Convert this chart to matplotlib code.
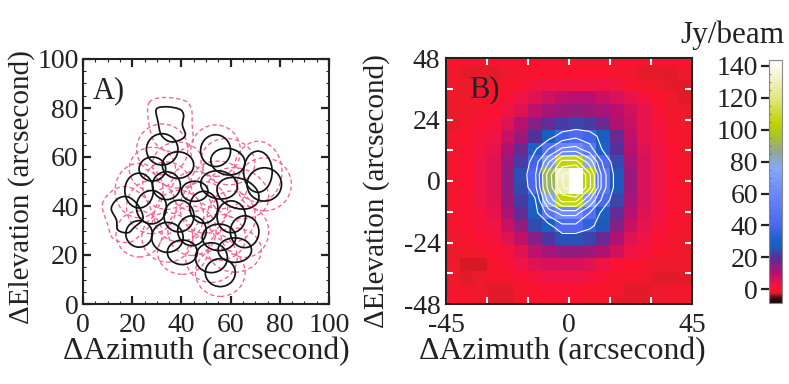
import numpy as np
import matplotlib
matplotlib.use("Agg")
import matplotlib.pyplot as plt
from matplotlib.patches import Ellipse, PathPatch
from matplotlib.path import Path
from matplotlib.colors import LinearSegmentedColormap, Normalize
from matplotlib.cm import ScalarMappable
from matplotlib.ticker import MultipleLocator, FixedLocator

plt.rcParams["font.family"] = ["Liberation Serif", "DejaVu Serif"]
plt.rcParams["axes.unicode_minus"] = False

W, H = 789, 384
FS = 20

# Panel A: beam footprints (centre x, centre y, half width, half height, tilt)
beams = [
    (32.2, 63.1, 6.4, 6.4, 0), (38.6, 56.7, 6.4, 5.4, 0), (28.2, 55.1, 5.4, 4.9, 0),
    (33.9, 48.3, 5.7, 5.7, 0), (22.8, 46.3, 5.8, 7.1, 0), (27.8, 39.5, 6.1, 6.8, 0),
    (22.8, 28.6, 5.4, 5.4, 0), (34.3, 27.2, 6.4, 6.1, 0), (39.0, 35.9, 6.1, 6.5, 0),
    (44.3, 29.9, 5.8, 6.1, 0), (40.4, 21.1, 6.1, 5.0, 0), (52.2, 18.9, 6.5, 6.1, 0),
    (55.8, 12.8, 6.1, 5.7, 0), (55.3, 27.2, 6.8, 5.4, 0), (61.7, 22.0, 6.8, 5.0, 0),
    (65.7, 29.5, 5.8, 6.5, 0), (60.3, 35.6, 5.8, 6.5, 0), (49.1, 39.5, 5.7, 6.5, 0),
    (45.4, 46.0, 5.4, 4.1, 0), (55.3, 48.6, 7.5, 5.7, -10), (63.0, 45.2, 8.8, 6.1, -20),
    (73.7, 48.8, 7.0, 6.8, 0), (71.1, 54.0, 5.8, 8.4, 0), (58.9, 58.1, 7.0, 5.4, -10),
    (53.9, 62.6, 6.1, 6.5, 0),
]
loop_top = [(29.8, 79.5), (33.9, 80.5), (39.3, 79.5), (40.9, 77.1), (40.4, 73.1),
            (41.6, 69.0), (39.3, 66.9), (35.2, 66.3), (31.8, 69.0), (30.5, 74.4)]
loop_left = [(11.5, 39.0), (14.2, 43.0), (18.3, 43.7), (22.4, 40.3), (24.4, 34.9),
             (21.0, 31.5), (18.3, 29.1), (14.2, 30.2), (13.6, 34.3)]
margin = 4.0

# Panel B: map in Jy/beam, top row first; 5 arcsec cells
x_edges = np.arange(-45, 46, 5)
y_edges = np.arange(50, -51, -5)
flux = np.array([
    [ 0.5, 0.5, 0.5, 0.5, 0.5, 0.5, 0.5, 0.5, 0.0,-0.5,-0.5,-0.5, 0.0, 0.5, 0.5, 0.5, 0.5, 0.5],
    [-0.5,-1.5,-1.5,-1.5,-1.0, 0.0, 0.5, 0.5, 0.5, 0.5, 0.5, 0.5, 0.0,-0.5,-1.5,-1.5,-1.5,-1.0],
    [-1.0,-1.0, 0.0, 0.0, 0.0, 1.0, 2.0, 3.0, 3.0, 3.0, 3.0, 3.0, 2.0, 1.0, 0.0,-1.0,-1.5,-1.5],
    [-1.0,-1.0, 0.0, 0.5, 1.0, 3.0, 5.0, 7.0, 9.0,10.0,10.0, 8.0, 6.0, 4.0, 2.0, 0.5,-1.0,-1.5],
    [-1.0,-1.0, 0.0, 1.0, 3.0, 5.0, 9.0,12.0,13.0,14.0,13.0,12.0,10.0, 7.0, 4.0, 1.0,-0.5,-1.0],
    [-1.5, 0.0, 1.0, 2.0, 5.0,10.0,15.0,19.0,22.0,23.0,22.0,18.0,11.0, 8.0, 4.0, 2.0, 0.0,-0.5],
    [ 0.0, 0.5, 2.0, 3.0, 8.0,13.0,20.0,27.0,37.0,42.0,38.0,27.0,18.0, 9.0, 4.0, 2.0, 0.5, 0.0],
    [ 0.0, 1.0, 2.0, 4.0,11.0,18.0,30.0,45.0,60.0,62.0,50.0,30.0,20.0,10.0, 5.0, 3.0, 1.0, 0.0],
    [ 0.0, 1.0, 3.0, 5.0,13.0,22.0,38.0,68.0,105.,105.,78.0,42.0,24.0,12.0, 6.0, 3.0, 1.0, 0.0],
    [ 0.0, 1.0, 3.0, 5.0,14.0,25.0,42.0,92.0,130.,146.,103.,50.0,26.0,13.0, 6.0, 3.0, 1.0, 0.0],
    [ 0.0, 1.0, 3.0, 5.0,14.0,24.0,40.0,90.0,128.,146.,104.,50.0,26.0,13.0, 6.0, 3.0, 1.0, 0.0],
    [ 0.0, 1.0, 3.0, 5.0,13.0,22.0,30.0,75.0,105.,105.,70.0,40.0,23.0,12.0, 6.0, 3.0, 1.0, 0.0],
    [ 0.0, 1.0, 2.0, 4.0,11.0,19.0,27.0,50.0,62.0,62.0,45.0,28.0,19.0,10.0, 5.0, 3.0, 1.0, 0.0],
    [ 0.0, 0.5, 2.0, 3.0, 8.0,14.0,24.0,28.0,42.0,42.0,35.0,26.0,15.0, 8.0, 4.0, 2.0, 0.5, 0.0],
    [-0.5, 0.0, 1.0, 2.0, 5.0, 9.0,15.0,21.0,25.0,25.0,23.0,18.0,11.0, 5.0, 3.0, 1.0, 0.0,-0.5],
    [-1.0,-0.5, 0.0, 1.0, 2.0, 5.0, 9.0,12.0,14.0,14.0,13.0,11.0, 7.0, 3.0, 2.0, 0.5,-0.5,-1.0],
    [-1.0,-2.5,-2.5, 0.0, 1.0, 3.0, 5.0, 6.0, 6.0, 6.0, 5.0, 3.0, 1.0, 0.5, 0.0,-1.0,-1.0,-1.0],
    [-1.0,-1.5,-1.0, 0.0, 0.0, 1.0, 2.0, 3.0, 3.0, 3.0, 2.0, 1.0, 0.0, 0.0,-0.5,-1.5,-1.5,-1.5],
    [ 0.0, 0.0,-1.0,-1.5,-1.5, 0.0, 0.5, 1.0, 1.0, 1.0, 0.5, 0.0, 0.0,-1.5,-1.5,-1.0,-0.5,-0.5],
    [ 0.5, 0.5,-1.0,-1.5,-1.5, 0.0, 0.5, 0.5, 0.5, 0.5, 0.0, 0.0,-1.5,-1.5,-1.5,-1.0,-0.5,-0.5],
])
contour_levels = [32, 45, 58, 70, 85, 100, 115, 130]
bar_ticks = [0, 20, 40, 60, 80, 100, 120, 140]
vmin, vmax = -8.6, 143.7
stops = [(-8.6, "#100808"), (-5.5, "#4a0a18"), (-3, "#d01a24"), (-1, "#ee1a2a"), (0.5, "#fb1230"),
         (3, "#ee1448"), (10, "#b81070"), (20, "#55309a"), (27, "#1860c0"), (32, "#2060d0"),
         (40, "#4a68f0"), (60, "#6a88f8"), (76, "#88a8f8"), (86, "#90a898"), (95, "#a8c030"),
         (104, "#bfd400"), (120, "#e0e880"), (135, "#f5f5d8"), (143.7, "#ffffff")]
cmap = LinearSegmentedColormap.from_list(
    "jy", [((v - vmin) / (vmax - vmin), c) for v, c in stops], N=512)


def add_axes_px(fig, left, top, right, bottom):
    return fig.add_axes([left / W, 1 - bottom / H, (right - left) / W, (bottom - top) / H])


def smooth_path(points):
    p = np.array(points)
    n = len(p)
    verts, codes = [p[0]], [Path.MOVETO]
    for i in range(n):
        p0, p1, p2, p3 = p[i - 1], p[i], p[(i + 1) % n], p[(i + 2) % n]
        verts += [p1 + (p2 - p0) / 6, p2 - (p3 - p1) / 6, p2]
        codes += [Path.CURVE4] * 3
    return Path(verts, codes)


def grown(points, d):
    p = np.array(points)
    c = p.mean(axis=0)
    v = p - c
    return c + v * (1 + d / np.linalg.norm(v, axis=1, keepdims=True))


fig = plt.figure(figsize=(W / 100, H / 100), dpi=100)
frame = "#222222"
ink = "#222222"

# Panel A
axa = add_axes_px(fig, 83, 59, 329, 304)
axa.set_xlim(0, 100)
axa.set_ylim(0, 100)
pink = dict(edgecolor="#f4628f", facecolor="none", lw=0.95, linestyle=(0, (3.2, 2.2)))
black = dict(edgecolor="#151515", facecolor="none", lw=1.25)
for cx, cy, rx, ry, ang in beams:
    axa.add_patch(Ellipse((cx, cy), 2 * (rx + margin), 2 * (ry + margin), angle=ang, **pink))
for loop in (loop_top, loop_left):
    axa.add_patch(PathPatch(smooth_path(grown(loop, margin)), **pink))
for cx, cy, rx, ry, ang in beams:
    axa.add_patch(Ellipse((cx, cy), 2 * rx, 2 * ry, angle=ang, **black))
for loop in (loop_top, loop_left):
    axa.add_patch(PathPatch(smooth_path(loop), **black))
axa.xaxis.set_major_locator(MultipleLocator(20))
axa.yaxis.set_major_locator(MultipleLocator(20))
axa.xaxis.set_minor_locator(MultipleLocator(5))
axa.yaxis.set_minor_locator(MultipleLocator(5))
axa.tick_params(which="major", direction="in", length=6, width=1.6, top=True, right=True,
                labelsize=FS, color=frame, labelcolor=ink)
axa.tick_params(which="minor", direction="in", length=2.2, width=0.8, top=True, right=True, color=frame)
axa.tick_params(axis="x", which="major", pad=6.5)
axa.tick_params(axis="y", which="major", pad=3)
axa.text(4, 87, "A)", fontsize=22, color=ink, va="center", ha="left")

# Panel B
axb = add_axes_px(fig, 446, 58, 692, 304)
norm = Normalize(vmin, vmax)
axb.pcolormesh(x_edges, y_edges, flux, cmap=cmap, norm=norm, shading="flat", rasterized=True)
xc = 0.5 * (x_edges[:-1] + x_edges[1:])
yc = 0.5 * (y_edges[:-1] + y_edges[1:])
axb.contour(xc, yc, flux, levels=contour_levels, colors="white", linewidths=0.8)
axb.set_xlim(-45, 45)
axb.set_ylim(-48, 48)
axb.xaxis.set_major_locator(FixedLocator([-45, 0, 45]))
axb.xaxis.set_minor_locator(MultipleLocator(15))
axb.yaxis.set_major_locator(FixedLocator([-48, -24, 0, 24, 48]))
axb.yaxis.set_minor_locator(MultipleLocator(12))
axb.tick_params(which="both", direction="in", length=5, width=1.5, top=True, right=True, color="white")
axb.tick_params(which="major", labelsize=FS, labelcolor=ink)
axb.tick_params(axis="x", which="major", pad=6.5)
axb.tick_params(axis="y", which="major", pad=4)
axb.text(-36.5, 35.5, "B)", fontsize=22, color=ink, va="center", ha="left")

# Axis titles, placed in figure pixels
fig.text(206 / W, 1 - 352 / H, "\u0394Azimuth (arcsecond)", fontsize=22.8, ha="center", va="center", color=ink)
fig.text(562 / W, 1 - 352 / H, "\u0394Azimuth (arcsecond)", fontsize=22.8, ha="center", va="center", color=ink)
fig.text(22 / W, 1 - 187 / H, "\u0394Elevation (arcsecond)", fontsize=21, rotation=90, ha="center", va="center", color=ink)
fig.text(377 / W, 1 - 191 / H, "\u0394Elevation (arcsecond)", fontsize=21, rotation=90, ha="center", va="center", color=ink)

for ax in (axa, axb):
    for s in ax.spines.values():
        s.set_linewidth(1.5)
        s.set_color(frame)

# Colour bar
cax = add_axes_px(fig, 769, 60, 782, 303)
cb = fig.colorbar(ScalarMappable(norm=norm, cmap=cmap), cax=cax)
cb.set_ticks(bar_ticks)
cb.ax.yaxis.set_ticks_position("left")
cb.ax.yaxis.set_minor_locator(MultipleLocator(5))
cb.ax.tick_params(which="major", direction="out", length=6, width=1.6, labelsize=FS, pad=2,
                  color=frame, labelcolor=ink)
cb.ax.tick_params(which="minor", direction="in", length=1.5, width=0.5, color="#555555")
cb.outline.set_linewidth(0.8)
cb.outline.set_edgecolor("#888888")
fig.text(680 / W, 1 - 35 / H, "Jy/beam", fontsize=22.5, ha="left", va="center", color=ink)

fig.savefig("out.png", dpi=100)
